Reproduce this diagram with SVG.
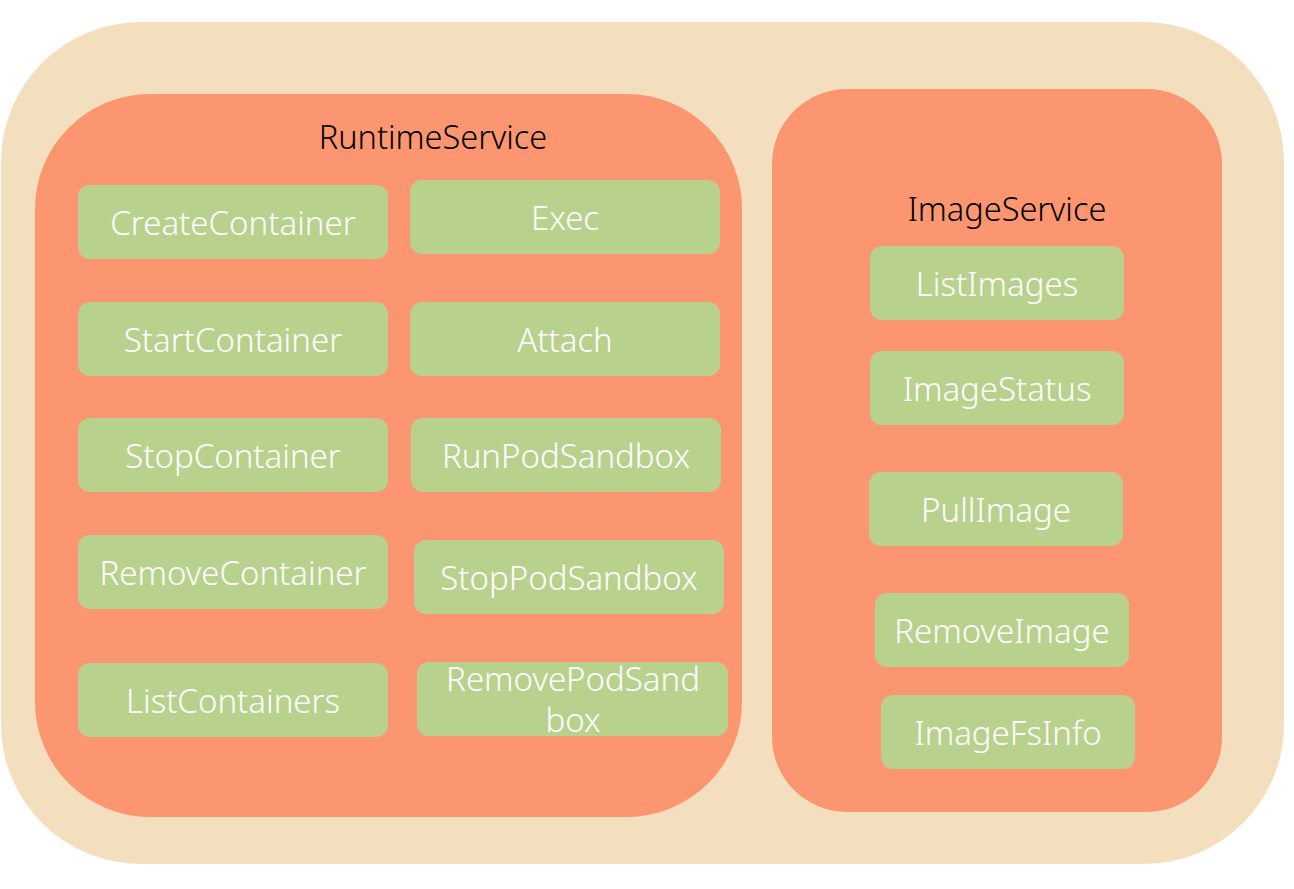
<svg xmlns="http://www.w3.org/2000/svg" width="1294" height="889" viewBox="0 0 1294 889">
<style>
.outer{fill:#F3DEBD}
.svc{fill:#FC9670}
.op rect{fill:#B8D28E}
.op text{fill:#FFFFFF;font-family:"Noto Sans","DejaVu Sans",sans-serif;font-size:33px;font-weight:300;text-anchor:middle;dominant-baseline:central}
.title{fill:#000000;font-family:"Noto Sans","DejaVu Sans",sans-serif;font-size:32.5px;font-weight:300;text-anchor:middle;dominant-baseline:central}
</style>
<rect width="1294" height="889" fill="#FFFFFF"/>
<g id="cri">
<rect class="outer" x="1" y="22" width="1283" height="842" rx="140" ry="140"/>
</g>
<g id="RuntimeService">
<rect class="svc" x="35" y="94" width="707" height="723" rx="115" ry="115"/>
<text class="title" x="433" y="136">RuntimeService</text>
</g>
<g id="ImageService">
<rect class="svc" x="772" y="89" width="450" height="723" rx="75" ry="75"/>
<text class="title" x="1007" y="208">ImageService</text>
</g>
<g id="connectors"></g>
<g id="CreateContainer" class="op"><rect x="78" y="185" width="310" height="74" rx="12"/><text x="233" y="222">CreateContainer</text></g>
<g id="StartContainer" class="op"><rect x="78" y="302" width="310" height="74" rx="12"/><text x="233" y="339">StartContainer</text></g>
<g id="StopContainer" class="op"><rect x="78" y="418" width="310" height="74" rx="12"/><text x="233" y="455">StopContainer</text></g>
<g id="RemoveContainer" class="op"><rect x="78" y="535" width="310" height="74" rx="12"/><text x="233" y="572">RemoveContainer</text></g>
<g id="ListContainers" class="op"><rect x="78" y="663" width="310" height="74" rx="12"/><text x="233" y="700">ListContainers</text></g>
<g id="Exec" class="op"><rect x="410" y="180" width="310" height="74" rx="12"/><text x="565" y="217">Exec</text></g>
<g id="Attach" class="op"><rect x="410" y="302" width="310" height="74" rx="12"/><text x="565" y="339">Attach</text></g>
<g id="RunPodSandbox" class="op"><rect x="411" y="418" width="310" height="74" rx="12"/><text x="566" y="455">RunPodSandbox</text></g>
<g id="StopPodSandbox" class="op"><rect x="414" y="540" width="310" height="74" rx="12"/><text x="569" y="577">StopPodSandbox</text></g>
<g id="RemovePodSandbox" class="op"><rect x="417" y="662" width="311" height="74" rx="12"/><text x="573" y="678">RemovePodSand</text><text x="573" y="719">box</text></g>
<g id="ListImages" class="op"><rect x="870" y="246" width="254" height="74" rx="12"/><text x="997" y="283">ListImages</text></g>
<g id="ImageStatus" class="op"><rect x="870" y="351" width="254" height="74" rx="12"/><text x="997" y="388">ImageStatus</text></g>
<g id="PullImage" class="op"><rect x="869" y="472" width="254" height="74" rx="12"/><text x="996" y="509">PullImage</text></g>
<g id="RemoveImage" class="op"><rect x="875" y="593" width="254" height="74" rx="12"/><text x="1002" y="630">RemoveImage</text></g>
<g id="ImageFsInfo" class="op"><rect x="881" y="695" width="254" height="74" rx="12"/><text x="1008" y="732">ImageFsInfo</text></g>
</svg>
